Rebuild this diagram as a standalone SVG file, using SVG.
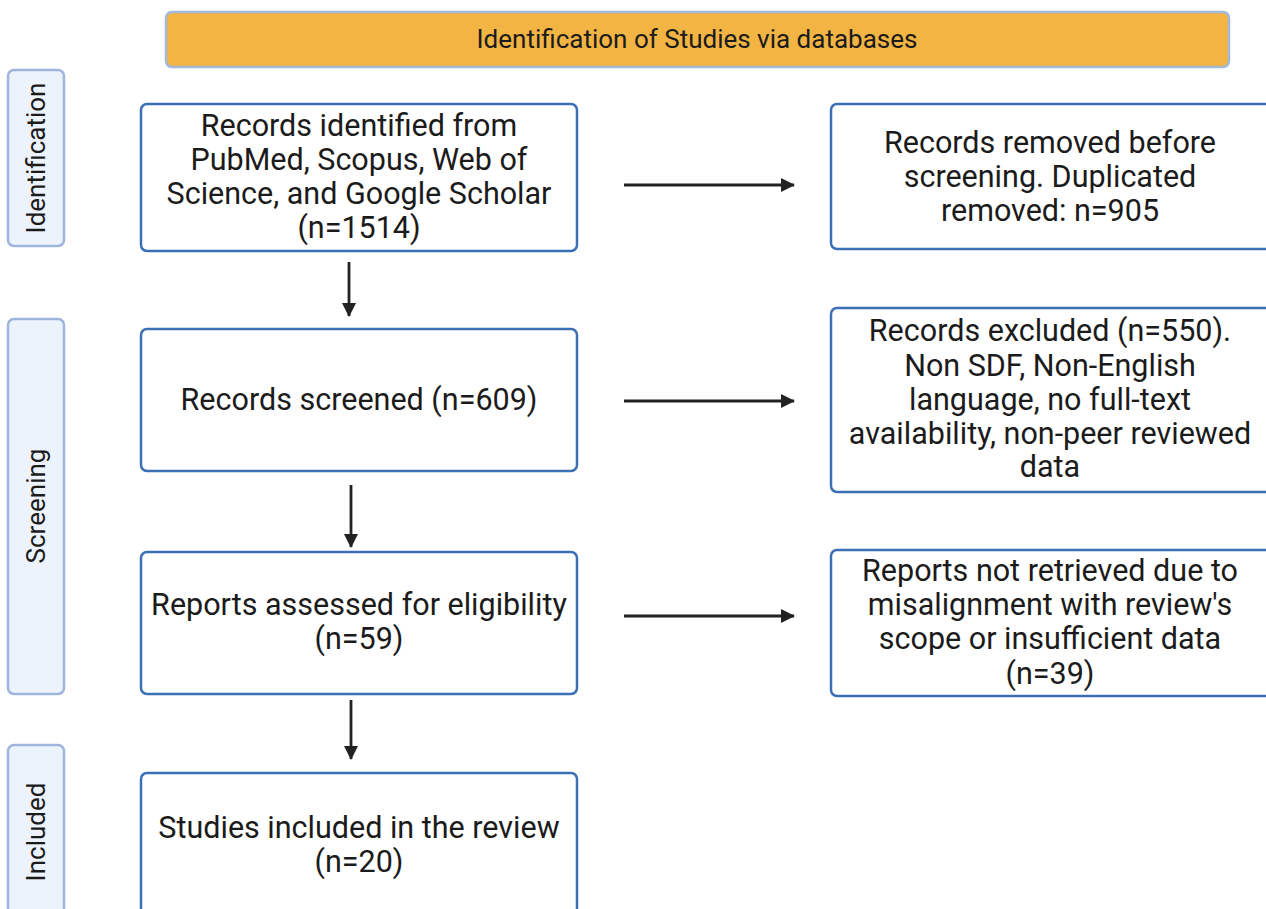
<svg xmlns="http://www.w3.org/2000/svg" width="1266" height="909" viewBox="0 0 1266 909">
<style>
.box{fill:#fff;stroke:#3C70B5;stroke-width:2.5}
.side{fill:#EDF3FC;stroke:#9EB5DD;stroke-width:2.5}
.t{font-family:Roboto,"Liberation Sans",sans-serif;font-size:30.5px;fill:#1b1b1b;text-anchor:middle}
.st{font-family:Roboto,"Liberation Sans",sans-serif;font-size:26px;fill:#1b1b1b;text-anchor:middle}
.c{stroke:#222;stroke-width:2.8;fill:none;marker-end:url(#ah)}
</style>
<defs>
<marker id="ah" markerWidth="14" markerHeight="14" refX="13" refY="7" orient="auto" markerUnits="userSpaceOnUse" viewBox="0 0 14 14">
<path d="M0,0 L14,7 L0,14 Z" fill="#222"/>
</marker>
</defs>
<rect width="1266" height="909" fill="#fff"/>
<g id="header">
<rect x="166" y="12" width="1063" height="55" rx="6" fill="#F2B442" stroke="#A4B8D8" stroke-width="2.5"/>
<text class="st" x="697" y="48">Identification of Studies via databases</text>
</g>
<g id="phase-identification">
<rect class="side" x="8" y="70" width="56" height="176" rx="6"/>
<text class="st" transform="translate(45,158) rotate(-90)">Identification</text>
</g>
<g id="phase-screening">
<rect class="side" x="8" y="319" width="56" height="375" rx="6"/>
<text class="st" transform="translate(45,506) rotate(-90)">Screening</text>
</g>
<g id="phase-included">
<rect class="side" x="8" y="745" width="56" height="180" rx="6"/>
<text class="st" transform="translate(45,832) rotate(-90)">Included</text>
</g>
<g id="n1">
<rect class="box" x="141" y="104" width="436" height="147" rx="6"/>
<text class="t" x="359" y="136">Records identified from</text>
<text class="t" x="359" y="170">PubMed, Scopus, Web of</text>
<text class="t" x="359" y="204">Science, and Google Scholar</text>
<text class="t" x="359" y="238">(n=1514)</text>
</g>
<g id="n2">
<rect class="box" x="141" y="329" width="436" height="142" rx="6"/>
<text class="t" x="359" y="410">Records screened (n=609)</text>
</g>
<g id="n3">
<rect class="box" x="141" y="552" width="436" height="142" rx="6"/>
<text class="t" x="359" y="615">Reports assessed for eligibility</text>
<text class="t" x="359" y="649">(n=59)</text>
</g>
<g id="n4">
<rect class="box" x="141" y="773" width="436" height="160" rx="6"/>
<text class="t" x="359" y="838">Studies included in the review</text>
<text class="t" x="359" y="872">(n=20)</text>
</g>
<g id="r1">
<rect class="box" x="831" y="104" width="450" height="145" rx="6"/>
<text class="t" x="1050" y="153">Records removed before</text>
<text class="t" x="1050" y="187">screening. Duplicated</text>
<text class="t" x="1050" y="221">removed: n=905</text>
</g>
<g id="r2">
<rect class="box" x="831" y="308" width="450" height="184" rx="6"/>
<text class="t" x="1050" y="341">Records excluded (n=550).</text>
<text class="t" x="1050" y="376">Non SDF, Non-English</text>
<text class="t" x="1050" y="410">language, no full-text</text>
<text class="t" x="1050" y="444">availability, non-peer reviewed</text>
<text class="t" x="1050" y="477">data</text>
</g>
<g id="r3">
<rect class="box" x="831" y="550" width="450" height="146" rx="6"/>
<text class="t" x="1050" y="581">Reports not retrieved due to</text>
<text class="t" x="1050" y="615">misalignment with review's</text>
<text class="t" x="1050" y="649">scope or insufficient data</text>
<text class="t" x="1050" y="684">(n=39)</text>
</g>
<g id="connectors">
<line class="c" x1="349" y1="262" x2="349" y2="316"/>
<line class="c" x1="351" y1="485" x2="351" y2="547"/>
<line class="c" x1="351" y1="700" x2="351" y2="759"/>
<line class="c" x1="624" y1="185" x2="794" y2="185"/>
<line class="c" x1="624" y1="401" x2="794" y2="401"/>
<line class="c" x1="624" y1="616" x2="794" y2="616"/>
</g>
</svg>
